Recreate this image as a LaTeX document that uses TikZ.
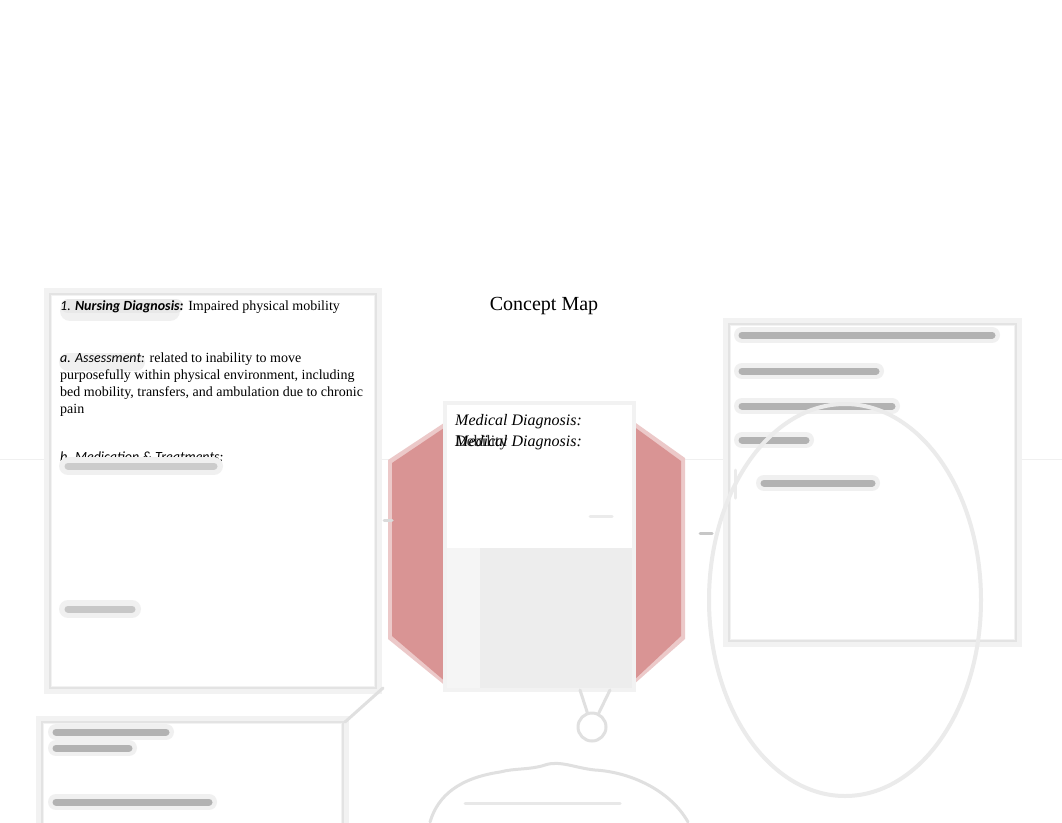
\documentclass[tikz,border=0pt]{standalone}
\usepackage{fontspec}
\setmainfont{Liberation Serif}
\newfontfamily\calib{Carlito}
\usetikzlibrary{shapes.geometric,arrows.meta}
\definecolor{hexred}{RGB}{217,148,148}
\tikzset{
  frameouter/.style={draw=black!5, line width=8pt},
  frameinner/.style={draw=black!11, line width=2pt},
  blurbar/.style={line width=7pt, draw=black!30, line cap=round},
  blurhalo/.style={line width=14pt, draw=black!6, line cap=round},
  txt/.style={anchor=base west, inner sep=0pt, font=\fontsize{14}{17}\selectfont},
  medtxt/.style={anchor=base west, inner sep=0pt, font=\fontsize{16}{19}\selectfont\itshape},
  faint/.style={draw=black!12, line width=3pt, line cap=round},
}
\begin{document}
\begin{tikzpicture}[x=1pt,y=-1pt]
\useasboundingbox (0,0) rectangle (1062,822);
\fill[white] (0,0) rectangle (1062,822);

% page break line
\draw[black!6, line width=0.8pt] (0,459) -- (1062,459);

% ---------- left box ----------
\draw[frameouter] (48,292) rectangle (378,690);
\draw[frameinner] (50,294) rectangle (376,688);
\fill[white] (52,296) rectangle (374,686);
\draw[blurhalo,line width=20pt] (70,311) -- (170,311);
\draw[blurhalo,draw=black!9] (68,306) -- (176,306);
\draw[blurhalo,line width=18pt] (68,362) -- (136,362);
\node[txt] (nd) at (60,310) {{\calib\itshape 1. \textbf{Nursing Diagnosis:}} Impaired physical mobility};
\node[txt] (as1) at (60,362) {{\calib\itshape a. Assessment:} related to inability to move};
\node[txt] (as2) at (60,379) {purposefully within physical environment, including};
\node[txt] (as3) at (60,396) {bed mobility, transfers, and ambulation due to chronic};
\node[txt] (as4) at (60,413) {pain};
\begin{scope}
  \clip (40,440) rectangle (380,461.5);
  \node[txt] (med) at (60,461) {{\calib\itshape b. Medication \& Treatments:}};
\end{scope}
\draw[blurhalo,line width=18pt] (68,466) -- (214,466);
\draw[blurbar,draw=black!20] (68,466) -- (214,466);
\draw[blurhalo,line width=18pt] (68,609) -- (132,609);
\draw[blurbar,draw=black!22] (68,609) -- (132,609);

% ---------- title ----------
\node[anchor=base, inner sep=0pt, font=\fontsize{20}{24}\selectfont] (title) at (544,310) {Concept Map};

% ---------- centre ----------
\fill[hexred!50] (388,460) -- (447,421) -- (447,687) -- (388,639) -- cycle;
\fill[hexred] (392,463) -- (447,426) -- (447,683) -- (392,636) -- cycle;
\fill[hexred!50] (633,421) -- (685,458) -- (685,639) -- (633,685) -- cycle;
\fill[hexred] (633,426) -- (681,461) -- (681,636) -- (633,681) -- cycle;
\draw[frameouter] (447,405) rectangle (632,688);
\fill[white] (447,405) rectangle (632,688);
\fill[black!7] (480,548) rectangle (632,688);
\fill[black!4] (447,548) rectangle (480,688);
\draw[faint,draw=black!8] (590,516) -- (612,516);
\node[medtxt] (md1) at (455,425) {Medical Diagnosis:};
\node[medtxt] (md2) at (455,446) {Medical Diagnosis:};
\node[anchor=base west, inner sep=0pt, font=\fontsize{16}{19}\selectfont, opacity=0.85] (deb) at (455,446) {Debility};

% ---------- right box ----------
\draw[frameouter] (727,322) rectangle (1018,643);
\draw[frameinner] (729,324) rectangle (1016,641);
\fill[white] (731,326) rectangle (1014,639);
\foreach \ya/\xa/\xb in {335/742/992, 371/742/876, 406/742/892, 440/742/806, 483/764/872}{
  \draw[blurhalo,line width=16pt] (\xa,\ya) -- (\xb,\ya);
  \draw[blurbar] (\xa,\ya) -- (\xb,\ya);
}
\draw[faint,draw=black!8] (735,470) -- (735,498);

% ellipse
\node[draw=black!8, line width=4pt, ellipse, minimum width=272pt, minimum height=392pt, inner sep=0pt] (ell) at (845,600) {};
\coordinate (ra) at (700,533);
\draw[faint,draw=black!22] (ra) -- ++(12,0);
\coordinate (la) at (384,520);
\draw[faint,draw=black!14] (la) -- ++(8,0);

% ---------- bottom left box ----------
\draw[frameouter] (40,720) rectangle (345,840);
\draw[frameinner] (42,722) rectangle (343,840);
\fill[white] (44,724) rectangle (341,840);
\foreach \ya/\xa/\xb in {732/56/166, 748/56/129, 802/56/209}{
  \draw[blurhalo,line width=16pt] (\xa,\ya) -- (\xb,\ya);
  \draw[blurbar] (\xa,\ya) -- (\xb,\ya);
}
\coordinate (bl) at (345,722);
\coordinate (lc) at (383,688);
\draw[faint] (bl) -- (lc);

% ---------- bottom cloud ----------
\coordinate (hexb) at (592,690);
\node[draw=black!12, line width=3pt, circle, minimum size=28pt, inner sep=0pt] (circ) at (592,727) {};
\draw[faint] (580,690) -- (circ);
\draw[faint] (610,690) -- (circ);
\draw[faint] (430,822) .. controls (438,795) and (460,778) .. (500,772)
  .. controls (515,768) and (530,770) .. (545,765)
  .. controls (560,760) and (575,768) .. (595,770)
  .. controls (630,772) and (670,790) .. (688,822);
\draw[faint,draw=black!9] (465,803) -- (620,803);
\end{tikzpicture}
\end{document}
